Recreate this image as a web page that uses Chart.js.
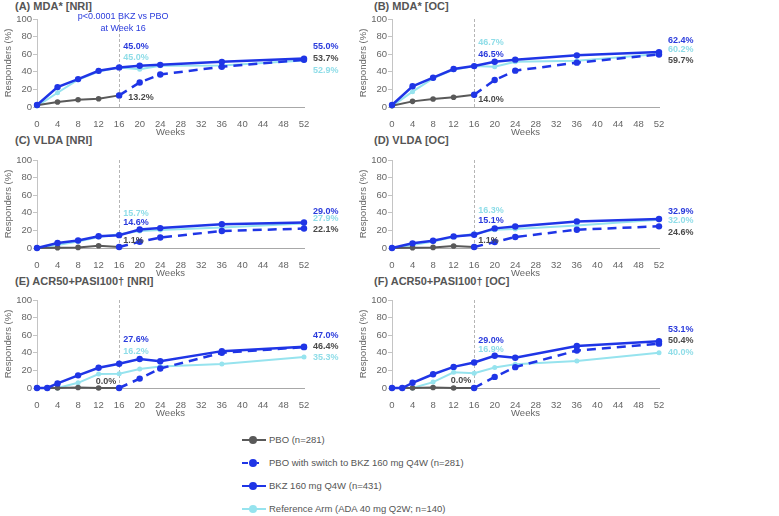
<!DOCTYPE html>
<html>
<head>
<meta charset="utf-8">
<script src="https://cdn.jsdelivr.net/npm/chart.js@4.4.1/dist/chart.umd.min.js"></script>
<style>
    body { margin: 0; background: #fff; font-family: "Liberation Sans", Arial, sans-serif; }
    #wrap { position: relative; width: 779px; height: 516px; overflow: hidden; }
    .panel { position: absolute; width: 355px; height: 141px; }
    .title { position: absolute; font-weight: bold; font-size: 11px; line-height: 12px; color: #555; white-space: nowrap; }
    .item { position: absolute; left: 241px; height: 12px; line-height: 12px; font-size: 9.5px; color: #555; white-space: nowrap; }
    .item svg { position: absolute; left: 0; top: 1px; }
    .item span { position: absolute; left: 28px; top: 0; }
</style>
</head>
<body>
<div id="wrap">
    <div class="title" style="left:15px; top:0px;">(A) MDA* [NRI]</div>
    <div class="title" style="left:374px; top:0px;">(B) MDA* [OC]</div>
    <div class="title" style="left:15px; top:134px;">(C) VLDA [NRI]</div>
    <div class="title" style="left:374px; top:134px;">(D) VLDA [OC]</div>
    <div class="title" style="left:15px; top:275px;">(E) ACR50+PASI100† [NRI]</div>
    <div class="title" style="left:374px; top:275px;">(F) ACR50+PASI100† [OC]</div>

    <canvas id="chartA" class="panel" width="355" height="141" style="left:0px; top:0px;"></canvas>
    <canvas id="chartB" class="panel" width="355" height="141" style="left:355px; top:0px;"></canvas>
    <canvas id="chartC" class="panel" width="355" height="141" style="left:0px; top:141px;"></canvas>
    <canvas id="chartD" class="panel" width="355" height="141" style="left:355px; top:141px;"></canvas>
    <canvas id="chartE" class="panel" width="355" height="141" style="left:0px; top:281px;"></canvas>
    <canvas id="chartF" class="panel" width="355" height="141" style="left:355px; top:281px;"></canvas>

    <div class="item" style="top:434px;">
        <svg width="26" height="10"><line x1="1" y1="5" x2="25" y2="5" stroke="#595959" stroke-width="2"/><circle cx="12" cy="5" r="4" fill="#595959"/></svg>
        <span>PBO (n=281)</span>
    </div>
    <div class="item" style="top:457px;">
        <svg width="26" height="10"><line x1="1" y1="5" x2="7" y2="5" stroke="#1f35e6" stroke-width="2"/><line x1="16" y1="5" x2="18" y2="5" stroke="#1f35e6" stroke-width="2"/><circle cx="12" cy="5" r="4" fill="#1f35e6"/></svg>
        <span>PBO with switch to BKZ 160 mg Q4W (n=281)</span>
    </div>
    <div class="item" style="top:480px;">
        <svg width="26" height="10"><line x1="1" y1="5" x2="25" y2="5" stroke="#1f35e6" stroke-width="2"/><circle cx="12" cy="5" r="4" fill="#1f35e6"/></svg>
        <span>BKZ 160 mg Q4W (n=431)</span>
    </div>
    <div class="item" style="top:503px;">
        <svg width="26" height="10"><line x1="1" y1="5" x2="25" y2="5" stroke="#96e3ee" stroke-width="2"/><circle cx="12" cy="5" r="4" fill="#96e3ee"/></svg>
        <span>Reference Arm (ADA 40 mg Q2W; n=140)</span>
    </div>
</div>

<script>
// Semanas de cada serie
const WEEKS = [0, 4, 8, 12, 16, 20, 24, 36, 52];
const WEEKS_PBO = [0, 4, 8, 12, 16];
const WEEKS_ACR = [0, 2, 4, 8, 12, 16, 20, 24, 36, 52];
const WEEKS_ACR_PBO = [0, 2, 4, 8, 12, 16];
const WEEKS_SWITCH = [16, 20, 24, 36, 52];
const X_TICKS = [0, 4, 8, 12, 16, 20, 24, 28, 32, 36, 40, 44, 48, 52];
const Y_TICKS = [0, 20, 40, 60, 80, 100];

// (A) MDA* [NRI]
const A_BKZ = [2.3, 22.6, 31.7, 41.1, 45.0, 46.8, 47.9, 51.3, 55.0];
const A_REF = [1.0, 16.2, 31.0, 40.4, 45.0, 43.0, 46.8, 47.2, 52.9];
const A_PBO = [2.0, 5.7, 8.3, 9.4, 13.2];
const A_SWITCH = [13.2, 27.9, 37.0, 45.7, 53.7];

// (B) MDA* [OC]
const B_BKZ = [2.3, 23.5, 33.3, 43.2, 46.5, 51.5, 53.8, 58.7, 62.4];
const B_REF = [1.0, 17.4, 32.6, 42.4, 46.7, 45.8, 51.5, 52.6, 60.2];
const B_PBO = [1.5, 6.4, 9.1, 11.0, 14.0];
const B_SWITCH = [14.0, 30.7, 41.3, 50.4, 59.7];

// (C) VLDA [NRI]
const C_BKZ = [0, 5.6, 8.5, 13.3, 14.6, 21.1, 22.6, 27.0, 29.0];
const C_REF = [0, 3.5, 7.5, 12.5, 15.7, 19.3, 20.4, 23.3, 27.9];
const C_PBO = [0, 0.4, 0.7, 2.6, 1.1];
const C_SWITCH = [1.1, 7.0, 11.9, 19.3, 22.1];

// (D) VLDA [OC]
const D_BKZ = [0, 5.3, 8.3, 13.2, 15.1, 22.3, 24.5, 30.2, 32.9];
const D_REF = [0, 3.5, 7.5, 12.5, 16.3, 20.8, 21.5, 25.5, 32.0];
const D_PBO = [0, 0.4, 0.7, 2.3, 1.1];
const D_SWITCH = [1.1, 6.8, 12.5, 20.8, 24.6];

// (E) ACR50+PASI100 [NRI]
const E_BKZ = [0, 0, 5.2, 14.4, 23.0, 27.6, 33.0, 30.4, 41.9, 47.0];
const E_REF = [0, 0, 0, 5.9, 15.9, 16.2, 21.5, 24.5, 27.4, 35.3];
const E_PBO = [0, 0, 0, 0.5, 0, 0];
const E_SWITCH = [0, 10.7, 22.2, 40.0, 46.4];

// (F) ACR50+PASI100 [OC]
const F_BKZ = [0, 0, 5.9, 15.6, 24.0, 29.0, 36.7, 34.4, 47.8, 53.1];
const F_REF = [0, 0, 0, 6.7, 17.8, 16.9, 23.3, 27.0, 30.7, 40.0];
const F_PBO = [0, 0, 0, 0.5, 0, 0];
const F_SWITCH = [0, 12.6, 23.7, 42.6, 50.4];

// Etiquetas de porcentaje: [texto, color, semana, valor de anclaje, alineación]
const A_LABELS = [['45.0%', 'blue', 16, 69.3, 'left'], ['45.0%', 'cyan', 16, 55.7, 'left'], ['13.2%', 'grey', 16, 11, 'left', 9],
                  ['55.0%', 'blue', 52, 69.3, 'left'], ['53.7%', 'grey', 52, 55.5, 'left'], ['52.9%', 'cyan', 52, 42, 'left']];
const B_LABELS = [['46.7%', 'cyan', 16, 73.5, 'left'], ['46.5%', 'blue', 16, 59.9, 'left'], ['14.0%', 'grey', 16, 8.7, 'left'],
                  ['62.4%', 'blue', 52, 76, 'left'], ['60.2%', 'cyan', 52, 65, 'left'], ['59.7%', 'grey', 52, 53, 'left']];
const C_LABELS = [['15.7%', 'cyan', 16, 39.4, 'left'], ['14.6%', 'blue', 16, 28.8, 'left'], ['1.1%', 'grey', 16, 8.3, 'left'],
                  ['29.0%', 'blue', 52, 42, 'left'], ['27.9%', 'cyan', 52, 33, 'left'], ['22.1%', 'grey', 52, 20.5, 'left']];
const D_LABELS = [['16.3%', 'cyan', 16, 42.4, 'left'], ['15.1%', 'blue', 16, 31.8, 'left'], ['1.1%', 'grey', 16, 8.3, 'left'],
                  ['32.9%', 'blue', 52, 42, 'left'], ['32.0%', 'cyan', 52, 30.7, 'left'], ['24.6%', 'grey', 52, 17.8, 'left']];
const E_LABELS = [['27.6%', 'blue', 16, 55.3, 'left'], ['16.2%', 'cyan', 16, 41.7, 'left'], ['0.0%', 'grey', 16, 7.2, 'right'],
                  ['47.0%', 'blue', 52, 60.2, 'left'], ['46.4%', 'grey', 52, 47.4, 'left'], ['35.3%', 'cyan', 52, 34.9, 'left']];
const F_LABELS = [['29.0%', 'blue', 16, 53.4, 'left'], ['16.9%', 'cyan', 16, 43.2, 'left'], ['0.0%', 'grey', 16, 8, 'right'],
                  ['53.1%', 'blue', 52, 66.7, 'left'], ['50.4%', 'grey', 52, 54.2, 'left'], ['40.0%', 'cyan', 52, 40.1, 'left']];
const A_NOTE = ['p<0.0001 BKZ vs PBO', 'at Week 16'];

const BLUE = '#1f35e6';
const GREY = '#595959';
const CYAN = '#96e3ee';
const LABEL_COLORS = { blue: '#2a3bdc', grey: '#4a4a4a', cyan: '#8fdde8' };

// Línea vertical en la semana 16 y etiquetas de texto
const panelText = {
    id: 'panelText',
    beforeDatasetsDraw(chart) {
        const x = chart.scales.x.getPixelForValue(16);
        const area = chart.chartArea;
        const ctx = chart.ctx;
        ctx.save();
        ctx.strokeStyle = '#b5b5b5';
        ctx.lineWidth = 1;
        ctx.setLineDash([3, 2]);
        ctx.beginPath();
        ctx.moveTo(Math.round(x) + 0.5, area.top);
        ctx.lineTo(Math.round(x) + 0.5, area.bottom);
        ctx.stroke();
        ctx.restore();
    },
    afterDatasetsDraw(chart, args, opts) {
        const ctx = chart.ctx;
        const xs = chart.scales.x, ys = chart.scales.y;
        ctx.save();
        ctx.textBaseline = 'middle';
        ctx.font = 'bold 9px "Liberation Sans", Arial, sans-serif';
        (opts.labels || []).forEach(l => {
            const [text, color, week, value, align, dx] = l;
            let x = xs.getPixelForValue(week);
            if (align === 'right') x -= 3;
            else x += (dx !== undefined ? dx : (week === 52 ? 9 : 4));
            ctx.textAlign = align;
            ctx.fillStyle = LABEL_COLORS[color];
            ctx.fillText(text, x, ys.getPixelForValue(value));
        });
        if (opts.note) {
            ctx.font = '9px "Liberation Sans", Arial, sans-serif';
            ctx.fillStyle = '#2a3bdc';
            ctx.textAlign = 'center';
            const x = xs.getPixelForValue(16) + 4;
            ctx.fillText(opts.note[0], x, chart.chartArea.top - 2);
            ctx.fillText(opts.note[1], x, chart.chartArea.top + 10);
        }
        ctx.restore();
    }
};

function points(weeks, values) {
    return values.map((v, i) => ({ x: weeks[i], y: v }));
}

function buildPanel(id, weeks, weeksPbo, bkz, ref, pbo, sw, labels, note) {
    const axisFont = { family: '"Liberation Sans", Arial, sans-serif', size: 9.5 };
    new Chart(document.getElementById(id), {
        type: 'line',
        data: {
            datasets: [
                { label: 'BKZ 160 mg Q4W', data: points(weeks, bkz), borderColor: BLUE, backgroundColor: BLUE,
                  borderWidth: 2.5, pointRadius: 3.2, pointBorderWidth: 0, clip: false },
                { label: 'PBO with switch', data: points(WEEKS_SWITCH, sw), borderColor: BLUE, backgroundColor: BLUE,
                  borderWidth: 2.5, borderDash: [9, 6], pointRadius: 3.2, pointBorderWidth: 0, clip: false },
                { label: 'PBO', data: points(weeksPbo, pbo), borderColor: GREY, backgroundColor: GREY,
                  borderWidth: 2, pointRadius: 2.8, pointBorderWidth: 0, clip: false },
                { label: 'Reference Arm', data: points(weeks, ref), borderColor: CYAN, backgroundColor: CYAN,
                  borderWidth: 2, pointRadius: 2.5, pointBorderWidth: 0, clip: false }
            ]
        },
        options: {
            responsive: false,
            animation: false,
            events: [],
            devicePixelRatio: 1,
            layout: { padding: { top: 19, right: 51, bottom: 0, left: 0 } },
            plugins: {
                legend: { display: false },
                tooltip: { enabled: false },
                panelText: { labels: labels, note: note }
            },
            scales: {
                x: {
                    type: 'linear', min: 0, max: 52,
                    afterBuildTicks: s => { s.ticks = X_TICKS.map(v => ({ value: v })); },
                    ticks: { color: '#666', font: axisFont, padding: 4, maxRotation: 0, autoSkip: false },
                    grid: { display: false },
                    border: { color: '#a8a8a8', width: 1 },
                    title: { display: true, text: 'Weeks', color: '#666', font: axisFont, padding: { top: 0, bottom: 3 } },
                    afterFit: s => { s.height = 34; }
                },
                y: {
                    min: 0, max: 100,
                    afterBuildTicks: s => { s.ticks = Y_TICKS.map(v => ({ value: v })); },
                    ticks: { color: '#666', font: axisFont, padding: 1 },
                    grid: { drawOnChartArea: false, tickLength: 4, color: '#c4c4c4' },
                    border: { color: '#c4c4c4', width: 1 },
                    title: { display: true, text: 'Responders (%)', color: '#666', font: axisFont, padding: { top: 2.5, bottom: 0 } },
                    afterFit: s => { s.width = 37; }
                }
            }
        },
        plugins: [panelText]
    });
}

buildPanel('chartA', WEEKS, WEEKS_PBO, A_BKZ, A_REF, A_PBO, A_SWITCH, A_LABELS, A_NOTE);
buildPanel('chartB', WEEKS, WEEKS_PBO, B_BKZ, B_REF, B_PBO, B_SWITCH, B_LABELS, null);
buildPanel('chartC', WEEKS, WEEKS_PBO, C_BKZ, C_REF, C_PBO, C_SWITCH, C_LABELS, null);
buildPanel('chartD', WEEKS, WEEKS_PBO, D_BKZ, D_REF, D_PBO, D_SWITCH, D_LABELS, null);
buildPanel('chartE', WEEKS_ACR, WEEKS_ACR_PBO, E_BKZ, E_REF, E_PBO, E_SWITCH, E_LABELS, null);
buildPanel('chartF', WEEKS_ACR, WEEKS_ACR_PBO, F_BKZ, F_REF, F_PBO, F_SWITCH, F_LABELS, null);
</script>
</body>
</html>
